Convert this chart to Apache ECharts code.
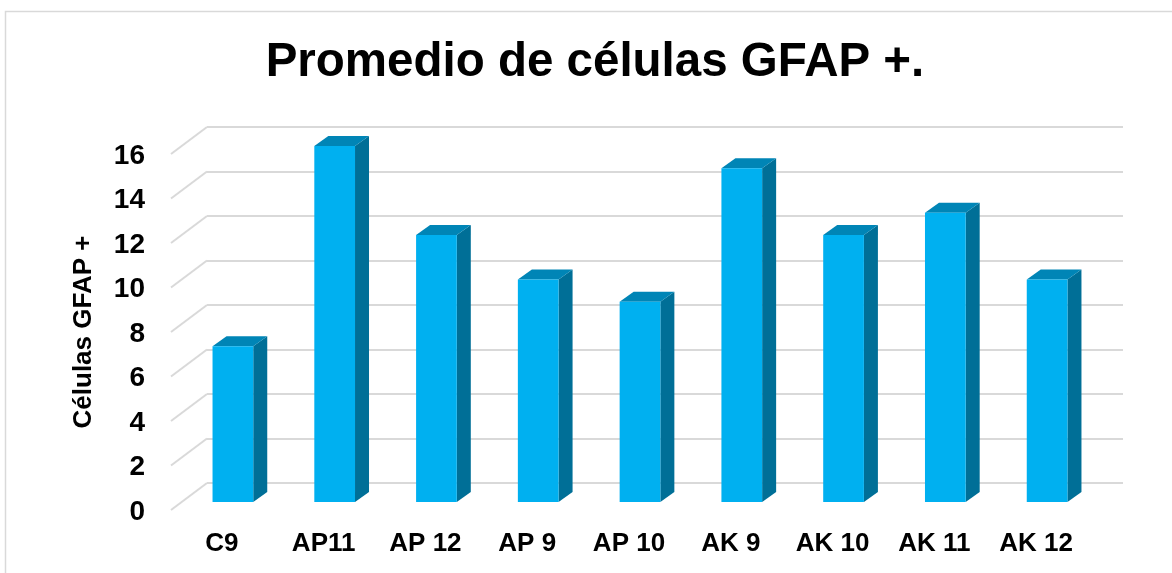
<!DOCTYPE html>
<html>
<head>
<meta charset="utf-8">
<script src="https://cdn.jsdelivr.net/npm/echarts@6/dist/echarts.min.js"></script>
<style>
  html, body { margin: 0; padding: 0; background: #fff; }
  #chart { width: 1172px; height: 573px; }
</style>
</head>
<body>
<div id="chart"></div>
<script>
// values
const categories = ['C9', 'AP11', 'AP 12', 'AP 9', 'AP 10', 'AK 9', 'AK 10', 'AK 11', 'AK 12'];
const cellCounts = [7, 16, 12, 10, 9, 15, 12, 13, 10];
const yTicks = [0, 2, 4, 6, 8, 10, 12, 14, 16];

const FONT = '"Liberation Sans", Arial, sans-serif';
const GRID_COLOR = '#D9D9D9';
const FRONT = '#00B0F0';
const SIDE = '#006F97';
const TOP = '#0085B6';

// 3d look: floor depth of the back wall and of the bars
const WALL_DX = 36, WALL_DY = 27;
const FACE_DX = 25, FACE_DY = 19;
const DEPTH_DX = 14, DEPTH_DY = 10;

const chart = echarts.init(document.getElementById('chart'));

/**
 * Draws one slanted bar: front, right side and top faces.
 */
const renderBar = (params, api) => {
    const idx = api.value(0);
    const top = api.coord([idx, api.value(1)]);
    const base = api.coord([idx, 0]);
    const w = api.size([1, 0])[0] * 0.4;
    const xL = top[0] - FACE_DX - w / 2;
    const xR = xL + w;
    const yT = top[1] + FACE_DY;
    const yB = base[1] + FACE_DY;
    return {
        type: 'group',
        children: [
            {
                type: 'polygon',
                shape: { points: [[xR, yT], [xR + DEPTH_DX, yT - DEPTH_DY], [xR + DEPTH_DX, yB - DEPTH_DY], [xR, yB]] },
                style: { fill: SIDE }
            },
            {
                type: 'polygon',
                shape: { points: [[xL, yT], [xL + DEPTH_DX, yT - DEPTH_DY], [xR + DEPTH_DX, yT - DEPTH_DY], [xR, yT]] },
                style: { fill: TOP }
            },
            {
                type: 'rect',
                shape: { x: xL, y: yT, width: w, height: yB - yT },
                style: { fill: FRONT }
            }
        ]
    };
};

/**
 * Draws the floor part of each grid line and its tick label at the front edge.
 */
const renderWallEdge = (params, api) => {
    const tick = api.value(1);
    const y = api.coord([0, tick])[1];
    const x0 = params.coordSys.x;
    return {
        type: 'group',
        children: [
            {
                type: 'line',
                shape: { x1: x0 - WALL_DX, y1: y + WALL_DY, x2: x0, y2: y },
                style: { stroke: GRID_COLOR, lineWidth: 2 }
            },
            {
                type: 'text',
                style: {
                    text: String(tick),
                    x: x0 - WALL_DX - 26,
                    y: y + WALL_DY + 2,
                    align: 'right',
                    verticalAlign: 'middle',
                    fill: '#000',
                    font: 'bold 28px ' + FONT
                }
            }
        ]
    };
};

chart.setOption({
    backgroundColor: '#fff',
    animation: false,
    title: {
        text: 'Promedio de células GFAP +.',
        left: 590,
        textAlign: 'center',
        top: 34,
        textStyle: { fontFamily: FONT, fontSize: 47.5, fontWeight: 'bold', color: '#000' }
    },
    graphic: [{
        type: 'rect',
        left: 3,
        top: 9,
        shape: { width: 1240, height: 620 },
        style: { fill: null, stroke: GRID_COLOR, lineWidth: 1.5 },
        silent: true
    }],
    grid: { left: 207, right: 49, top: 127, bottom: 90 },
    xAxis: {
        type: 'category',
        data: categories,
        axisLine: { show: false },
        axisTick: { show: false },
        axisLabel: {
            margin: 48,
            padding: [0, WALL_DX * 2, 0, 0],
            fontFamily: FONT,
            fontSize: 26,
            fontWeight: 'bold',
            color: '#000'
        }
    },
    yAxis: {
        type: 'value',
        min: 0,
        max: 16,
        interval: 2,
        name: 'Células GFAP +',
        nameLocation: 'middle',
        nameRotate: 90,
        nameGap: 110,
        nameTextStyle: {
            fontFamily: FONT,
            fontSize: 26,
            fontWeight: 'bold',
            color: '#000',
            padding: [0, 54, 0, 0]
        },
        axisLine: { show: false },
        axisTick: { show: false },
        axisLabel: { show: false },
        splitLine: { lineStyle: { color: GRID_COLOR, width: 2 } }
    },
    series: [
        {
            type: 'custom',
            silent: true,
            renderItem: renderWallEdge,
            data: yTicks.map((t) => [0, t]),
            z: 1
        },
        {
            type: 'custom',
            renderItem: renderBar,
            data: cellCounts.map((v, i) => [i, v]),
            z: 2
        }
    ]
});
</script>
</body>
</html>
